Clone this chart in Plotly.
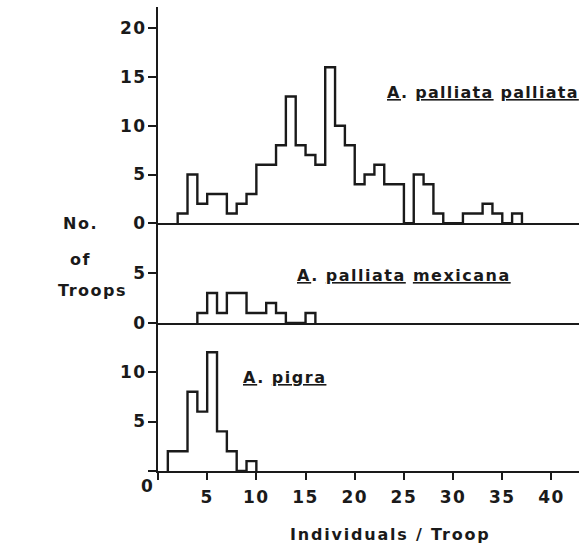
import plotly.graph_objects as go
from plotly.subplots import make_subplots

# Left edges of 1-individual bins and number of troops in each bin
palliata_left = [2, 3, 4, 5, 6, 7, 8, 9, 10, 11, 12, 13, 14, 15, 16, 17, 18, 19,
                 20, 21, 22, 23, 24, 25, 26, 27, 28, 29, 30, 31, 32, 33, 34, 35, 36]
palliata_counts = [1, 5, 2, 3, 3, 1, 2, 3, 6, 6, 8, 13, 8, 7, 6, 16, 10, 8,
                   4, 5, 6, 4, 4, 0, 5, 4, 1, 0, 0, 1, 1, 2, 1, 0, 1]

mexicana_left = [4, 5, 6, 7, 8, 9, 10, 11, 12, 13, 14, 15]
mexicana_counts = [1, 3, 1, 3, 3, 1, 1, 2, 1, 0, 0, 1]

pigra_left = [1, 2, 3, 4, 5, 6, 7, 8, 9]
pigra_counts = [2, 2, 8, 6, 12, 4, 2, 0, 1]

x_ticks = [0, 5, 10, 15, 20, 25, 30, 35, 40]
x_tick_labels = ["", "5", "10", "15", "20", "25", "30", "35", "40"]
top_y_ticks = [0, 5, 10, 15, 20]
mid_y_ticks = [0, 5]
bot_y_ticks = [0, 5, 10]
bot_y_labels = ["", "5", "10"]

INK = "#1a1a1a"
FONT = "DejaVu Sans"


def sp(t, ls=1.5):
    return f'<span style="letter-spacing:{ls}px">{t}</span>'


def step_xy(left, counts):
    xs = [left[0]] + list(left) + [left[-1] + 1]
    ys = [0] + list(counts) + [0]
    return xs, ys


fig = make_subplots(rows=3, cols=1, shared_xaxes=False, vertical_spacing=0)

for row, (lft, cnt) in enumerate([(palliata_left, palliata_counts),
                                  (mexicana_left, mexicana_counts),
                                  (pigra_left, pigra_counts)], start=1):
    xs, ys = step_xy(lft, cnt)
    fig.add_trace(go.Scatter(x=xs, y=ys, mode="lines", line_shape="hv",
                             line=dict(color=INK, width=2.4),
                             cliponaxis=False, showlegend=False,
                             hoverinfo="skip"), row=row, col=1)

H_BOT = 148 / 464
H_MID = (471 - 223.3) / 464

tickfont = dict(family=FONT, size=17, color=INK, weight="bold")

common_x = dict(range=[0, 42.8], showline=True, linecolor=INK, linewidth=2,
                showgrid=False, zeroline=False, fixedrange=True,
                automargin=False)
fig.update_layout(
    xaxis=dict(**common_x, showticklabels=False, ticks=""),
    xaxis2=dict(**common_x, showticklabels=False, ticks=""),
    xaxis3=dict(**common_x, tickvals=x_ticks,
                ticktext=[sp(t, 1.5) for t in x_tick_labels],
                ticks="outside", ticklen=7, tickwidth=2, tickcolor=INK,
                tickfont=tickfont, ticklabelstandoff=3),
)

common_y = dict(showline=True, linecolor=INK, linewidth=2, showgrid=False,
                zeroline=False, ticks="outside", ticklen=8, tickwidth=2,
                tickcolor=INK, tickfont=tickfont, ticklabelstandoff=-2,
                fixedrange=True, automargin=False)
fig.update_layout(
    yaxis=dict(**common_y, domain=[H_MID, 1], range=[0, 22.18],
               tickvals=top_y_ticks,
               ticktext=[sp(str(t), 1.5) for t in top_y_ticks]),
    yaxis2=dict(**common_y, domain=[H_BOT, H_MID], range=[0, 9.97],
                tickvals=mid_y_ticks,
                ticktext=[sp(str(t), 1.5) for t in mid_y_ticks]),
    yaxis3=dict(**common_y, domain=[0, H_BOT], range=[0, 14.95],
                tickvals=bot_y_ticks,
                ticktext=[sp(t, 1.5) for t in bot_y_labels]),
)

lab_font = dict(family=FONT, size=16, color=INK, weight="bold")
annotations = [
    dict(text=sp("<u>A</u>. <u>palliata</u> <u>palliata</u>", 1.3), x=23.1,
         y=13.4, xref="x", yref="y", xanchor="left", yanchor="middle"),
    dict(text=sp("<u>A</u>. <u>palliata</u> <u>mexicana</u>"), x=13.9, y=4.8,
         xref="x2", yref="y2", xanchor="left", yanchor="middle"),
    dict(text=sp("<u>A</u>. <u>pigra</u>"), x=8.4, y=9.4,
         xref="x3", yref="y3", xanchor="left", yanchor="middle"),
    dict(text=sp("Individuals / Troop", 1.8), x=0.553, y=-0.136,
         xref="paper", yref="paper", xanchor="center", yanchor="middle"),
    dict(text=sp("No."), x=-0.183, y=0.534, xref="paper", yref="paper",
         xanchor="center", yanchor="middle"),
    dict(text=sp("of"), x=-0.185, y=0.455, xref="paper", yref="paper",
         xanchor="center", yanchor="middle"),
    dict(text=sp("Troops"), x=-0.156, y=0.390, xref="paper", yref="paper",
         xanchor="center", yanchor="middle"),
]
for a in annotations:
    a.update(showarrow=False, font=lab_font)
annotations.append(dict(text="0", x=0, y=0, xref="x3", yref="y3",
                        xshift=-11, yshift=-15, showarrow=False,
                        xanchor="center", yanchor="middle",
                        font=tickfont))
fig.update_layout(annotations=annotations)

fig.update_layout(width=580, height=547,
                  margin=dict(l=158, r=1, t=7, b=76, autoexpand=False),
                  paper_bgcolor="white", plot_bgcolor="white")

fig.write_html("out.html",
               config={"displayModeBar": False, "staticPlot": True},
               post_script="document.body.style.margin='0';"
                           "document.body.style.overflow='hidden';")
